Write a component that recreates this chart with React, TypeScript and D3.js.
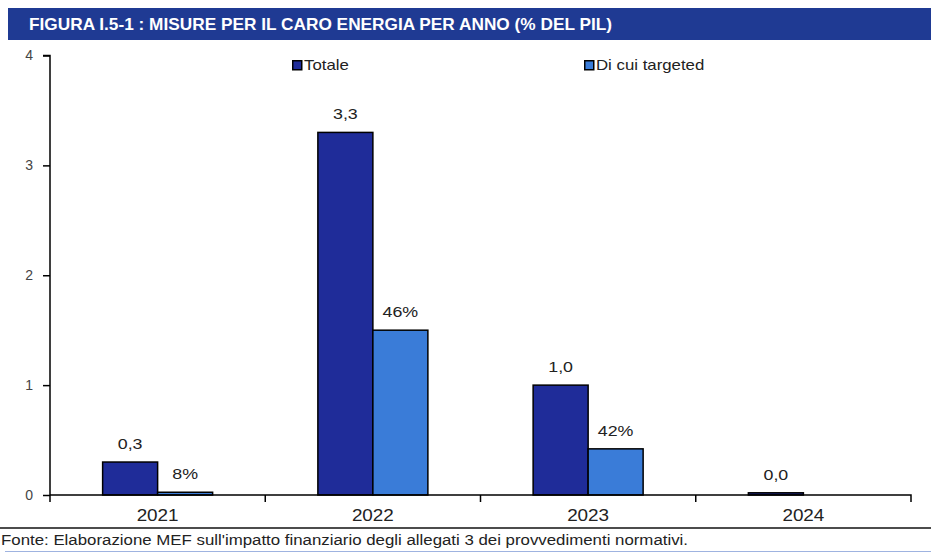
import { useEffect, useRef } from "react";
import * as d3 from "d3";

// ── Data ──────────────────────────────────────────────────────────────────────
const YEARS = ["2021", "2022", "2023", "2024"];
const TOTALE = [0.3, 3.3, 1.0, 0.02];
const TARGETED = [0.025, 1.5, 0.42, 0];
const TOTALE_LABELS = ["0,3", "3,3", "1,0", "0,0"];
const TARGETED_LABELS = ["8%", "46%", "42%", ""];
const Y_TICKS = [0, 1, 2, 3, 4];
const SERIES = ["Totale", "Di cui targeted"];

const TITLE = "FIGURA I.5-1 : MISURE PER IL CARO ENERGIA PER ANNO (% DEL PIL)";
const SOURCE = "Fonte: Elaborazione MEF sull'impatto finanziario degli allegati 3 dei provvedimenti normativi.";

const W = 931;
const H = 553;
const M = { top: 55.5, right: 20, bottom: 58, left: 50 };
const COLORS = ["#1F2C99", "#3A7CD8"];
const FONT = "'Liberation Sans', Arial, sans-serif";
const INK = "#222";

type Sel = d3.Selection<SVGGElement | SVGSVGElement, unknown, null, undefined>;

// text with horizontal stretch around its anchor point (the reference font is wide)
function label(parent: Sel, x: number, y: number, txt: string, size: number, sx: number, anchor = "start") {
  return parent.append("text")
    .attr("x", x).attr("y", y)
    .attr("transform", `translate(${x},${y}) scale(${sx},1) translate(${-x},${-y})`)
    .attr("text-anchor", anchor)
    .attr("fill", INK)
    .attr("font-size", size)
    .attr("font-family", FONT)
    .text(txt);
}

export default function App() {
  const ref = useRef<SVGSVGElement>(null);

  useEffect(() => {
    if (!ref.current) return;
    const svg = d3.select(ref.current) as unknown as Sel;
    svg.selectAll("*").remove();

    // ── Title band ───────────────────────────────────────────────
    svg.append("rect")
      .attr("x", 8).attr("y", 8).attr("width", W - 8).attr("height", 32)
      .attr("fill", "#1F3A93");
    svg.append("text")
      .attr("x", 29).attr("y", 30)
      .attr("fill", "#fff")
      .attr("font-family", FONT)
      .attr("font-weight", "bold")
      .attr("font-size", 16.5)
      .attr("textLength", 583)
      .attr("lengthAdjust", "spacingAndGlyphs")
      .text(TITLE);

    const x0 = d3.scaleBand().domain(YEARS).range([M.left, 911]).padding(0);
    const barW = 55;
    const y = d3.scaleLinear().domain([0, 4]).range([H - M.bottom, M.top]);

    // ── Y axis ───────────────────────────────────────────────────
    svg.append("g")
      .attr("transform", `translate(${M.left},0)`)
      .call(d3.axisLeft(y).tickValues(Y_TICKS).tickSize(7).tickPadding(10).tickFormat(d3.format("d")))
      .call((g) => g.select(".domain").attr("stroke", "#000").attr("stroke-width", 1.5).attr("d", `M-7,${y(4)}H0V${y(0) + 7}`))
      .call((g) => g.selectAll(".tick line").attr("stroke", "#000").attr("stroke-width", 1.5))
      .call((g) => g.selectAll("text")
        .attr("fill", "#444")
        .attr("font-size", 14)
        .attr("font-family", FONT));

    // ── Bars ─────────────────────────────────────────────────────
    const groups = [TOTALE, TARGETED];
    const barX = (i: number, si: number) => (x0(YEARS[i]) ?? 0) + x0.bandwidth() / 2 - barW + si * barW;
    groups.forEach((vals, si) => {
      svg.append("g")
        .selectAll("rect")
        .data(vals.map((v, i) => ({ v, i })).filter((d) => d.v > 0))
        .join("rect")
        .attr("x", (d) => barX(d.i, si))
        .attr("y", (d) => y(d.v))
        .attr("width", barW)
        .attr("height", (d) => y(0) - y(d.v))
        .attr("fill", COLORS[si])
        .attr("stroke", "#000")
        .attr("stroke-width", 1.5);
    });

    // ── Value labels ─────────────────────────────────────────────
    const labelSets = [TOTALE_LABELS, TARGETED_LABELS];
    const vl = svg.append("g") as unknown as Sel;
    labelSets.forEach((labels, si) => {
      labels.forEach((t, i) => {
        if (!t) return;
        label(vl, barX(i, si) + barW / 2, y(groups[si][i]) - 13, t, 15.5, 1.15, "middle");
      });
    });

    // ── X axis ───────────────────────────────────────────────────
    svg.append("g")
      .attr("transform", `translate(0,${y(0)})`)
      .call(d3.axisBottom(x0).tickSize(0).tickFormat(() => ""))
      .call((g) => g.select(".domain").attr("stroke", "#000").attr("stroke-width", 1.5).attr("d", `M${M.left},0H911V7`));
    svg.append("g")
      .selectAll("line")
      .data(YEARS.slice(1))
      .join("line")
      .attr("x1", (d) => x0(d) ?? 0).attr("x2", (d) => x0(d) ?? 0)
      .attr("y1", y(0)).attr("y2", y(0) + 7)
      .attr("stroke", "#000").attr("stroke-width", 1.5);
    const xl = svg.append("g") as unknown as Sel;
    YEARS.forEach((yr) => {
      label(xl, (x0(yr) ?? 0) + x0.bandwidth() / 2, 521, yr, 16, 1.18, "middle");
    });

    // ── Legend ───────────────────────────────────────────────────
    const legendX = [292, 584];
    SERIES.forEach((s, i) => {
      svg.append("rect")
        .attr("x", legendX[i] + 0.75).attr("y", 60.75).attr("width", 9).attr("height", 9)
        .attr("fill", COLORS[i]).attr("stroke", "#000").attr("stroke-width", 1.5);
      label(svg, legendX[i] + 12, 70.5, s, 14, 1.2);
    });

    // ── Source ───────────────────────────────────────────────────
    svg.append("line")
      .attr("x1", 0).attr("x2", W).attr("y1", 528).attr("y2", 528)
      .attr("stroke", "#111").attr("stroke-width", 1.5);
    svg.append("text")
      .attr("x", 1).attr("y", 545)
      .attr("fill", INK)
      .attr("font-size", 14)
      .attr("font-family", FONT)
      .attr("textLength", 687)
      .attr("lengthAdjust", "spacingAndGlyphs")
      .text(SOURCE);
    svg.append("line")
      .attr("x1", 5).attr("x2", W).attr("y1", 551.5).attr("y2", 551.5)
      .attr("stroke", "#9FB3E0").attr("stroke-width", 1);
  }, []);

  return (
    <div style={{ position: "fixed", left: 0, top: 0, width: W, height: H, background: "#fff" }}>
      <svg ref={ref} width={W} height={H} style={{ display: "block" }} />
    </div>
  );
}
